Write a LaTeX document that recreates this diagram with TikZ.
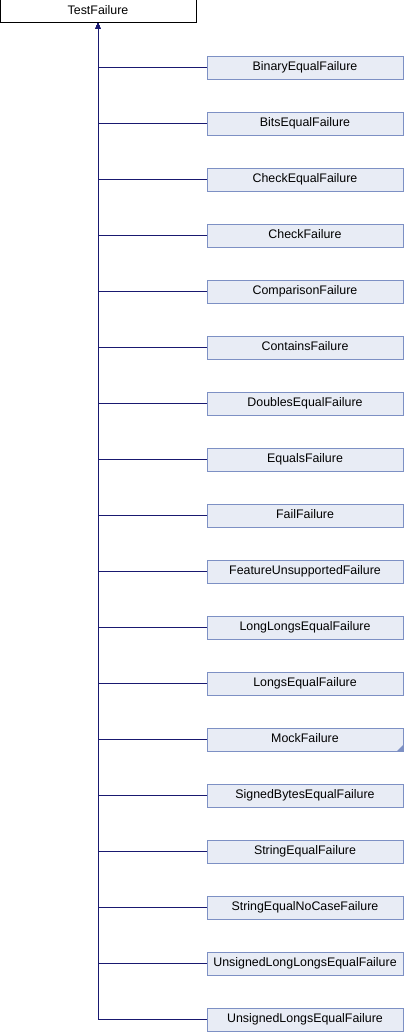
\documentclass[tikz,border=0pt]{standalone}
\usepackage{fontspec}
\setmainfont{Liberation Sans}
\usetikzlibrary{positioning,arrows.meta}
\definecolor{boxfill}{HTML}{E8ECF5}
\definecolor{boxline}{HTML}{7D90C4}
\definecolor{edgecol}{HTML}{191970}
\tikzset{
  base/.style={rectangle,draw=black,fill=white,line width=1pt,minimum width=196pt,minimum height=23pt,inner sep=0pt,outer sep=0pt,text height=9pt,text depth=2.6pt,font=\fontsize{12.4}{14}\selectfont},
  derived/.style={base,draw=boxline,fill=boxfill},
  inherit/.style={draw=edgecol,line width=1pt,-{Triangle[width=5pt,length=6pt]}}
}
\begin{document}
\begin{tikzpicture}[x=1pt,y=1pt,node distance=33pt]
  \useasboundingbox (0,0) rectangle (404,-1032);
  \node (TestFailure) [base] at (98,-11.5) {TestFailure};
  \node (BinaryEqualFailure) [derived] at (305,-67.7) {BinaryEqualFailure};
  \node (BitsEqualFailure) [derived,below=of BinaryEqualFailure] {BitsEqualFailure};
  \node (CheckEqualFailure) [derived,below=of BitsEqualFailure] {CheckEqualFailure};
  \node (CheckFailure) [derived,below=of CheckEqualFailure] {CheckFailure};
  \node (ComparisonFailure) [derived,below=of CheckFailure] {ComparisonFailure};
  \node (ContainsFailure) [derived,below=of ComparisonFailure] {ContainsFailure};
  \node (DoublesEqualFailure) [derived,below=of ContainsFailure] {DoublesEqualFailure};
  \node (EqualsFailure) [derived,below=of DoublesEqualFailure] {EqualsFailure};
  \node (FailFailure) [derived,below=of EqualsFailure] {FailFailure};
  \node (FeatureUnsupportedFailure) [derived,below=of FailFailure] {FeatureUnsupportedFailure};
  \node (LongLongsEqualFailure) [derived,below=of FeatureUnsupportedFailure] {LongLongsEqualFailure};
  \node (LongsEqualFailure) [derived,below=of LongLongsEqualFailure] {LongsEqualFailure};
  \node (MockFailure) [derived,below=of LongsEqualFailure] {MockFailure};
  \node (SignedBytesEqualFailure) [derived,below=of MockFailure] {SignedBytesEqualFailure};
  \node (StringEqualFailure) [derived,below=of SignedBytesEqualFailure] {StringEqualFailure};
  \node (StringEqualNoCaseFailure) [derived,below=of StringEqualFailure] {StringEqualNoCaseFailure};
  \node (UnsignedLongLongsEqualFailure) [derived,below=of StringEqualNoCaseFailure] {UnsignedLongLongsEqualFailure};
  \node (UnsignedLongsEqualFailure) [derived,below=of UnsignedLongLongsEqualFailure] {UnsignedLongsEqualFailure};
  % corner mark of MockFailure
  \fill[boxline] (MockFailure.south east) -- ++(-6,0) -- ++(6,6) -- cycle;
  % inheritance edges
  \draw[inherit] (BinaryEqualFailure.west) -| (TestFailure.south);
  \draw[inherit] (BitsEqualFailure.west) -| (TestFailure.south);
  \draw[inherit] (CheckEqualFailure.west) -| (TestFailure.south);
  \draw[inherit] (CheckFailure.west) -| (TestFailure.south);
  \draw[inherit] (ComparisonFailure.west) -| (TestFailure.south);
  \draw[inherit] (ContainsFailure.west) -| (TestFailure.south);
  \draw[inherit] (DoublesEqualFailure.west) -| (TestFailure.south);
  \draw[inherit] (EqualsFailure.west) -| (TestFailure.south);
  \draw[inherit] (FailFailure.west) -| (TestFailure.south);
  \draw[inherit] (FeatureUnsupportedFailure.west) -| (TestFailure.south);
  \draw[inherit] (LongLongsEqualFailure.west) -| (TestFailure.south);
  \draw[inherit] (LongsEqualFailure.west) -| (TestFailure.south);
  \draw[inherit] (MockFailure.west) -| (TestFailure.south);
  \draw[inherit] (SignedBytesEqualFailure.west) -| (TestFailure.south);
  \draw[inherit] (StringEqualFailure.west) -| (TestFailure.south);
  \draw[inherit] (StringEqualNoCaseFailure.west) -| (TestFailure.south);
  \draw[inherit] (UnsignedLongLongsEqualFailure.west) -| (TestFailure.south);
  \draw[inherit] (UnsignedLongsEqualFailure.west) -| (TestFailure.south);
\end{tikzpicture}
\end{document}
